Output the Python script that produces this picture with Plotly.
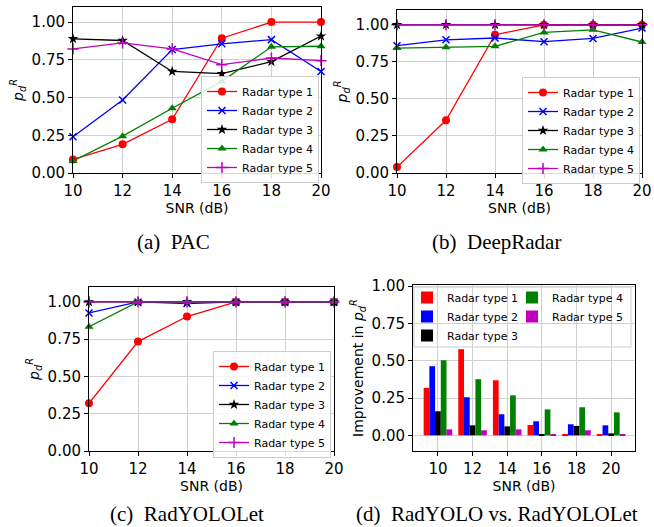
import plotly.graph_objects as go

snr = [10, 12, 14, 16, 18, 20]
names = ["Radar type 1", "Radar type 2", "Radar type 3", "Radar type 4", "Radar type 5"]

# (a) PAC
pac_t1 = [0.09, 0.19, 0.356, 0.893, 1.0, 1.0]
pac_t2 = [0.24, 0.484, 0.818, 0.856, 0.884, 0.673]
pac_t3 = [0.889, 0.878, 0.673, 0.658, 0.738, 0.907]
pac_t4 = [0.08, 0.244, 0.429, 0.607, 0.836, 0.84]
pac_t5 = [0.822, 0.862, 0.822, 0.718, 0.762, 0.744]

# (b) DeepRadar
dr_t1 = [0.04, 0.356, 0.933, 1.0, 1.0, 1.0]
dr_t2 = [0.859, 0.899, 0.911, 0.886, 0.908, 0.978]
dr_t3 = [1.0, 1.0, 1.0, 1.0, 1.0, 1.0]
dr_t4 = [0.843, 0.848, 0.855, 0.949, 0.966, 0.884]
dr_t5 = [1.0, 1.0, 1.0, 1.0, 1.0, 1.0]

# (c) RadYOLOLet
ry_t1 = [0.32, 0.734, 0.902, 1.0, 1.0, 1.0]
ry_t2 = [0.926, 1.0, 0.989, 1.0, 1.0, 1.0]
ry_t3 = [1.0, 1.0, 1.0, 1.0, 1.0, 1.0]
ry_t4 = [0.834, 1.0, 1.0, 1.0, 1.0, 1.0]
ry_t5 = [1.0, 1.0, 1.0, 1.0, 1.0, 1.0]

# (d) Improvement RadYOLO vs RadYOLOLet
imp_t1 = [0.318, 0.577, 0.369, 0.069, 0.003, 0.003]
imp_t2 = [0.463, 0.255, 0.141, 0.094, 0.074, 0.067]
imp_t3 = [0.161, 0.067, 0.060, 0.003, 0.063, 0.013]
imp_t4 = [0.503, 0.376, 0.268, 0.174, 0.188, 0.154]
imp_t5 = [0.040, 0.034, 0.040, 0.003, 0.034, 0.003]

yticks = [0.0, 0.25, 0.5, 0.75, 1.0]
captions = ["(a)  PAC", "(b)  DeepRadar", "(c)  RadYOLOLet", "(d)  RadYOLO vs. RadYOLOLet"]

colors = ["#ff0000", "#0000ff", "#000000", "#008000", "#bf00bf"]
symbols = ["circle", "x-thin", "star", "triangle-up", "cross-thin"]
msizes = [8, 7, 8, 8, 8]

W, H = 654, 527
FONT = "DejaVu Sans"

fig = go.Figure()

line_panels = [
    ([pac_t1, pac_t2, pac_t3, pac_t4, pac_t5], "x", "y", "legend"),
    ([dr_t1, dr_t2, dr_t3, dr_t4, dr_t5], "x2", "y2", "legend2"),
    ([ry_t1, ry_t2, ry_t3, ry_t4, ry_t5], "x3", "y3", "legend3"),
]
for series, xa, ya, lg in line_panels:
    for i, vals in enumerate(series):
        thin = symbols[i].endswith("-thin")
        fig.add_trace(go.Scatter(
            x=snr, y=vals, name=names[i], mode="lines+markers",
            xaxis=xa, yaxis=ya, legend=lg, cliponaxis=False,
            line=dict(color=colors[i], width=1.3),
            marker=dict(symbol=symbols[i], size=msizes[i], color=colors[i],
                        line=dict(color=colors[i], width=1.5 if thin else 0)),
        ))

bar_legends = ["legend4", "legend4", "legend4", "legend5", "legend5"]
for i, vals in enumerate([imp_t1, imp_t2, imp_t3, imp_t4, imp_t5]):
    fig.add_trace(go.Bar(
        x=snr, y=vals, name=names[i], xaxis="x4", yaxis="y4", legend=bar_legends[i],
        marker=dict(color=colors[i], line=dict(width=0)),
    ))

def px_dom(a, b, total):
    return [a / total, b / total]

def py_dom(top, bottom):
    return [1 - bottom / H, 1 - top / H]

axis_common = dict(
    showline=True, linecolor="black", linewidth=1, mirror=True, automargin=False,
    ticks="outside", ticklen=4, tickcolor="black", tickwidth=1,
    showgrid=True, gridcolor="#d0d0d0", gridwidth=1, zeroline=False,
    tickfont=dict(family=FONT, size=15, color="black"),
)
xt = dict(text="SNR (dB)", font=dict(family=FONT, size=14, color="black"), standoff=2)
yt = dict(text="<i>p</i><sub><i>d</i></sub><sup><i>R</i></sup>",
          font=dict(family=FONT, size=14, color="black"), standoff=4)

layout = dict(
    width=W, height=H, margin=dict(l=0, r=0, t=0, b=0, autoexpand=False),
    paper_bgcolor="white", plot_bgcolor="white", showlegend=True,
    barmode="group", bargap=0.175, bargroupgap=0,
    font=dict(family=FONT, color="black"),
    xaxis=dict(domain=px_dom(73, 321, W), anchor="y", range=[10, 20], tickvals=snr, title=xt, **axis_common),
    yaxis=dict(domain=py_dom(7, 173), anchor="x", range=[0, 1.1], tickvals=yticks, tickformat=".2f", title=yt, **axis_common),
    xaxis2=dict(domain=px_dom(397, 642, W), anchor="y2", range=[10, 20], tickvals=snr, title=xt, **axis_common),
    yaxis2=dict(domain=py_dom(10, 173), anchor="x2", range=[0, 1.1], tickvals=yticks, tickformat=".2f", title=yt, **axis_common),
    xaxis3=dict(domain=px_dom(89, 334, W), anchor="y3", range=[10, 20], tickvals=snr, title=xt, **axis_common),
    yaxis3=dict(domain=py_dom(287, 451), anchor="x3", range=[0, 1.1], tickvals=yticks, tickformat=".2f", title=yt, **axis_common),
    xaxis4=dict(domain=px_dom(413, 635, W), anchor="y4", range=[8.56, 21.38], tickvals=snr, title=xt, **axis_common),
    yaxis4=dict(domain=py_dom(285, 451), anchor="x4", range=[-0.105, 1.007], tickvals=yticks, tickformat=".2f",
                title=dict(text="Improvement in <i>p</i><sub><i>d</i></sub><sup><i>R</i></sup>",
                           font=dict(family=FONT, size=14, color="black"), standoff=4), **axis_common),
)

leg_common = dict(bgcolor="rgba(255,255,255,0.85)", bordercolor="#cccccc", borderwidth=1,
                  font=dict(family=FONT, size=11, color="black"), tracegroupgap=0,
                  xref="paper", yref="paper", xanchor="left", yanchor="top")
layout["legend"] = dict(x=201 / W, y=1 - 76 / H, **leg_common)
layout["legend2"] = dict(x=522 / W, y=1 - 77 / H, **leg_common)
layout["legend3"] = dict(x=213 / W, y=1 - 351 / H, **leg_common)

bar_leg = dict(bgcolor="rgba(0,0,0,0)", borderwidth=0,
               font=dict(family=FONT, size=11, color="black"), tracegroupgap=0,
               xref="paper", yref="paper", xanchor="left", yanchor="top", itemwidth=30)
layout["legend4"] = dict(x=407 / W, y=1 - 283 / H, **bar_leg)
layout["legend5"] = dict(x=512 / W, y=1 - 283 / H, **bar_leg)

layout["shapes"] = [dict(type="rect", xref="paper", yref="paper", layer="below",
                         x0=414 / W, x1=631 / W, y0=1 - 347 / H, y1=1 - 287 / H,
                         line=dict(color="#cccccc", width=1), fillcolor="rgba(255,255,255,0.85)")]

annotations = []
cap_top = [(173, 242), (496, 242)]
for text, (cx, cy) in zip(captions[:2], cap_top):
    annotations.append(dict(text=text, x=cx / W, y=1 - cy / H, xref="paper", yref="paper",
                            showarrow=False, xanchor="center", yanchor="middle",
                            font=dict(family="Liberation Serif", size=21, color="black")))
for text, cx in zip(captions[2:], [187, 497]):
    annotations.append(dict(text=text, x=cx / W, y=0, xref="paper", yref="paper",
                            showarrow=False, xanchor="center", yanchor="bottom", borderpad=0,
                            font=dict(family="Liberation Serif", size=21, color="black")))
layout["annotations"] = annotations

fig.update_layout(**layout)
fig.write_html("out.html")
